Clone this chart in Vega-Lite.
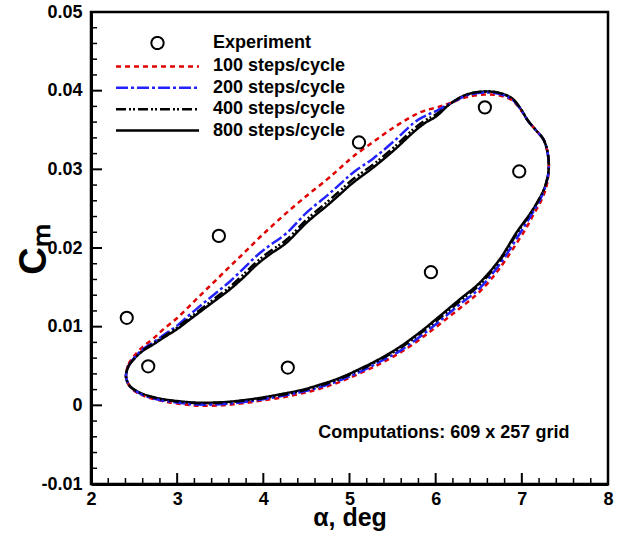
{
  "$schema": "https://vega.github.io/schema/vega-lite/v6.json",
  "width": 517,
  "height": 472,
  "autosize": {"type": "none"},
  "padding": {"left": 91, "top": 12, "right": 15, "bottom": 53},
  "background": "white",
  "config": {
    "font": "Liberation Sans",
    "view": {"stroke": "black", "strokeWidth": 2.5},
    "axis": {
      "grid": false, "domainColor": "black", "domainWidth": 3, "ticks": false,
      "labelFont": "Liberation Sans", "labelFontSize": 18, "labelFontWeight": "bold", "labelColor": "black",
      "titleFont": "Liberation Sans", "titleFontWeight": "bold", "titleColor": "black",
      "labelOverlap": false, "labelFlush": false, "labelBound": false
    }
  },
  "encoding": {
    "x": {
      "field": "a", "type": "quantitative",
      "scale": {"domain": [2, 8], "nice": false, "zero": false},
      "axis": {
        "values": [2,3,4,5,6,7,8],
        "labelExpr": "format(round(datum.value), 'd')",
        "labelPadding": 6,
        "title": "α, deg", "titleFontSize": 25, "titleY": 41, "titleBaseline": "alphabetic"
      }
    },
    "y": {
      "field": "c", "type": "quantitative",
      "scale": {"domain": [-0.01, 0.05], "nice": false, "zero": false},
      "axis": {
        "values": [-0.01,0,0.01,0.02,0.03,0.04,0.05],
        "labelExpr": "abs(datum.value) < 0.0001 ? '0' : (datum.value < 0 ? '-0.01' : format(datum.value, '.2f'))",
        "labelPadding": 9,
        "title": "Cₘ", "titleFontSize": 38, "titleX": -46, "titleY": 237, "titleBaseline": "alphabetic", "titleAlign": "center", "titleAngle": 270
      }
    }
  },
  "layer": [
    {
      "data": {"values": [{"a":2,"c":-0.01},{"a":3,"c":-0.01},{"a":4,"c":-0.01},{"a":5,"c":-0.01},{"a":6,"c":-0.01},{"a":7,"c":-0.01},{"a":8,"c":-0.01}]},
      "mark": {"type": "tick", "orient": "vertical", "size": 22, "thickness": 2, "color": "black", "opacity": 1, "clip": true}
    },
    {
      "data": {"values": [{"a":2.2,"c":-0.01},{"a":2.4,"c":-0.01},{"a":2.6,"c":-0.01},{"a":2.8,"c":-0.01},{"a":3.2,"c":-0.01},{"a":3.4,"c":-0.01},{"a":3.6,"c":-0.01},{"a":3.8,"c":-0.01},{"a":4.2,"c":-0.01},{"a":4.4,"c":-0.01},{"a":4.6,"c":-0.01},{"a":4.8,"c":-0.01},{"a":5.2,"c":-0.01},{"a":5.4,"c":-0.01},{"a":5.6,"c":-0.01},{"a":5.8,"c":-0.01},{"a":6.2,"c":-0.01},{"a":6.4,"c":-0.01},{"a":6.6,"c":-0.01},{"a":6.8,"c":-0.01},{"a":7.2,"c":-0.01},{"a":7.4,"c":-0.01},{"a":7.6,"c":-0.01},{"a":7.8,"c":-0.01}]},
      "mark": {"type": "tick", "orient": "vertical", "size": 12, "thickness": 1.5, "color": "black", "opacity": 1, "clip": true}
    },
    {
      "data": {"values": [{"a":2,"c":-0.01},{"a":2,"c":0},{"a":2,"c":0.01},{"a":2,"c":0.02},{"a":2,"c":0.03},{"a":2,"c":0.04},{"a":2,"c":0.05}]},
      "mark": {"type": "tick", "orient": "horizontal", "size": 22, "thickness": 2, "color": "black", "opacity": 1, "clip": true}
    },
    {
      "data": {"values": [{"a":2,"c":-0.008},{"a":2,"c":-0.006},{"a":2,"c":-0.004},{"a":2,"c":-0.002},{"a":2,"c":0.002},{"a":2,"c":0.004},{"a":2,"c":0.006},{"a":2,"c":0.008},{"a":2,"c":0.012},{"a":2,"c":0.014},{"a":2,"c":0.016},{"a":2,"c":0.018},{"a":2,"c":0.022},{"a":2,"c":0.024},{"a":2,"c":0.026},{"a":2,"c":0.028},{"a":2,"c":0.032},{"a":2,"c":0.034},{"a":2,"c":0.036},{"a":2,"c":0.038},{"a":2,"c":0.042},{"a":2,"c":0.044},{"a":2,"c":0.046},{"a":2,"c":0.048}]},
      "mark": {"type": "tick", "orient": "horizontal", "size": 12, "thickness": 1.5, "color": "black", "opacity": 1, "clip": true}
    },
    {
      "data": {"values": [
        {"s":"800 steps/cycle","i":1,"a":2.406,"c":0.00373},{"s":"800 steps/cycle","i":2,"a":2.436,"c":0.00500},{"s":"800 steps/cycle","i":3,"a":2.514,"c":0.00607},{"s":"800 steps/cycle","i":4,"a":2.610,"c":0.00700},{"s":"800 steps/cycle","i":5,"a":2.726,"c":0.00776},{"s":"800 steps/cycle","i":6,"a":2.842,"c":0.00861},{"s":"800 steps/cycle","i":7,"a":2.997,"c":0.00967},{"s":"800 steps/cycle","i":8,"a":3.151,"c":0.01094},{"s":"800 steps/cycle","i":9,"a":3.305,"c":0.01221},{"s":"800 steps/cycle","i":10,"a":3.461,"c":0.01349},
        {"s":"800 steps/cycle","i":11,"a":3.615,"c":0.01476},{"s":"800 steps/cycle","i":12,"a":3.769,"c":0.01625},{"s":"800 steps/cycle","i":13,"a":3.924,"c":0.01788},{"s":"800 steps/cycle","i":14,"a":4.078,"c":0.01921},{"s":"800 steps/cycle","i":15,"a":4.272,"c":0.02070},{"s":"800 steps/cycle","i":16,"a":4.504,"c":0.02324},{"s":"800 steps/cycle","i":17,"a":4.736,"c":0.02536},{"s":"800 steps/cycle","i":18,"a":4.890,"c":0.02684},{"s":"800 steps/cycle","i":19,"a":5.044,"c":0.02833},{"s":"800 steps/cycle","i":20,"a":5.276,"c":0.03024},
        {"s":"800 steps/cycle","i":21,"a":5.508,"c":0.03235},{"s":"800 steps/cycle","i":22,"a":5.739,"c":0.03469},{"s":"800 steps/cycle","i":23,"a":5.875,"c":0.03588},{"s":"800 steps/cycle","i":24,"a":6.011,"c":0.03677},{"s":"800 steps/cycle","i":25,"a":6.165,"c":0.03830},{"s":"800 steps/cycle","i":26,"a":6.358,"c":0.03950},{"s":"800 steps/cycle","i":27,"a":6.571,"c":0.03989},{"s":"800 steps/cycle","i":28,"a":6.744,"c":0.03969},{"s":"800 steps/cycle","i":29,"a":6.889,"c":0.03900},{"s":"800 steps/cycle","i":30,"a":6.988,"c":0.03766},
        {"s":"800 steps/cycle","i":31,"a":7.072,"c":0.03617},{"s":"800 steps/cycle","i":32,"a":7.162,"c":0.03499},{"s":"800 steps/cycle","i":33,"a":7.255,"c":0.03372},{"s":"800 steps/cycle","i":34,"a":7.304,"c":0.03181},{"s":"800 steps/cycle","i":35,"a":7.310,"c":0.02977},{"s":"800 steps/cycle","i":36,"a":7.266,"c":0.02770},{"s":"800 steps/cycle","i":37,"a":7.188,"c":0.02599},{"s":"800 steps/cycle","i":38,"a":7.092,"c":0.02430},{"s":"800 steps/cycle","i":39,"a":6.938,"c":0.02197},{"s":"800 steps/cycle","i":40,"a":6.744,"c":0.01858},
        {"s":"800 steps/cycle","i":41,"a":6.513,"c":0.01561},{"s":"800 steps/cycle","i":42,"a":6.281,"c":0.01349},{"s":"800 steps/cycle","i":43,"a":6.049,"c":0.01136},{"s":"800 steps/cycle","i":44,"a":5.817,"c":0.00929},{"s":"800 steps/cycle","i":45,"a":5.585,"c":0.00744},{"s":"800 steps/cycle","i":46,"a":5.353,"c":0.00592},{"s":"800 steps/cycle","i":47,"a":5.122,"c":0.00464},{"s":"800 steps/cycle","i":48,"a":4.890,"c":0.00350},{"s":"800 steps/cycle","i":49,"a":4.658,"c":0.00263},{"s":"800 steps/cycle","i":50,"a":4.426,"c":0.00191},
        {"s":"800 steps/cycle","i":51,"a":4.194,"c":0.00140},{"s":"800 steps/cycle","i":52,"a":3.962,"c":0.00095},{"s":"800 steps/cycle","i":53,"a":3.731,"c":0.00060},{"s":"800 steps/cycle","i":54,"a":3.499,"c":0.00038},{"s":"800 steps/cycle","i":55,"a":3.229,"c":0.00034},{"s":"800 steps/cycle","i":56,"a":2.997,"c":0.00055},{"s":"800 steps/cycle","i":57,"a":2.803,"c":0.00085},{"s":"800 steps/cycle","i":58,"a":2.610,"c":0.00140},{"s":"800 steps/cycle","i":59,"a":2.494,"c":0.00204},{"s":"800 steps/cycle","i":60,"a":2.436,"c":0.00267},

        {"s":"100 steps/cycle","i":1,"a":2.406,"c":0.00373},{"s":"100 steps/cycle","i":2,"a":2.436,"c":0.00525},{"s":"100 steps/cycle","i":3,"a":2.514,"c":0.00645},{"s":"100 steps/cycle","i":4,"a":2.610,"c":0.00751},{"s":"100 steps/cycle","i":5,"a":2.726,"c":0.00852},{"s":"100 steps/cycle","i":6,"a":2.842,"c":0.00969},{"s":"100 steps/cycle","i":7,"a":2.997,"c":0.01107},{"s":"100 steps/cycle","i":8,"a":3.151,"c":0.01272},{"s":"100 steps/cycle","i":9,"a":3.305,"c":0.01438},{"s":"100 steps/cycle","i":10,"a":3.461,"c":0.01603},
        {"s":"100 steps/cycle","i":11,"a":3.615,"c":0.01768},{"s":"100 steps/cycle","i":12,"a":3.769,"c":0.01930},{"s":"100 steps/cycle","i":13,"a":3.924,"c":0.02099},{"s":"100 steps/cycle","i":14,"a":4.078,"c":0.02258},{"s":"100 steps/cycle","i":15,"a":4.272,"c":0.02449},{"s":"100 steps/cycle","i":16,"a":4.504,"c":0.02665},{"s":"100 steps/cycle","i":17,"a":4.736,"c":0.02869},{"s":"100 steps/cycle","i":18,"a":4.890,"c":0.03015},{"s":"100 steps/cycle","i":19,"a":5.044,"c":0.03164},{"s":"100 steps/cycle","i":20,"a":5.276,"c":0.03349},
        {"s":"100 steps/cycle","i":21,"a":5.508,"c":0.03528},{"s":"100 steps/cycle","i":22,"a":5.739,"c":0.03681},{"s":"100 steps/cycle","i":23,"a":5.875,"c":0.03747},{"s":"100 steps/cycle","i":24,"a":6.011,"c":0.03785},{"s":"100 steps/cycle","i":25,"a":6.165,"c":0.03842},{"s":"100 steps/cycle","i":26,"a":6.358,"c":0.03918},{"s":"100 steps/cycle","i":27,"a":6.571,"c":0.03951},{"s":"100 steps/cycle","i":28,"a":6.744,"c":0.03937},{"s":"100 steps/cycle","i":29,"a":6.889,"c":0.03875},{"s":"100 steps/cycle","i":30,"a":6.988,"c":0.03753},
        {"s":"100 steps/cycle","i":31,"a":7.072,"c":0.03617},{"s":"100 steps/cycle","i":32,"a":7.162,"c":0.03499},{"s":"100 steps/cycle","i":33,"a":7.255,"c":0.03372},{"s":"100 steps/cycle","i":34,"a":7.304,"c":0.03181},{"s":"100 steps/cycle","i":35,"a":7.312,"c":0.02977},{"s":"100 steps/cycle","i":36,"a":7.283,"c":0.02770},{"s":"100 steps/cycle","i":37,"a":7.223,"c":0.02599},{"s":"100 steps/cycle","i":38,"a":7.138,"c":0.02430},{"s":"100 steps/cycle","i":39,"a":7.019,"c":0.02197},{"s":"100 steps/cycle","i":40,"a":6.744,"c":0.01744},
        {"s":"100 steps/cycle","i":41,"a":6.513,"c":0.01447},{"s":"100 steps/cycle","i":42,"a":6.281,"c":0.01235},{"s":"100 steps/cycle","i":43,"a":6.049,"c":0.01034},{"s":"100 steps/cycle","i":44,"a":5.817,"c":0.00840},{"s":"100 steps/cycle","i":45,"a":5.585,"c":0.00668},{"s":"100 steps/cycle","i":46,"a":5.353,"c":0.00528},{"s":"100 steps/cycle","i":47,"a":5.122,"c":0.00407},{"s":"100 steps/cycle","i":48,"a":4.890,"c":0.00299},{"s":"100 steps/cycle","i":49,"a":4.658,"c":0.00212},{"s":"100 steps/cycle","i":50,"a":4.426,"c":0.00147},
        {"s":"100 steps/cycle","i":51,"a":4.194,"c":0.00096},{"s":"100 steps/cycle","i":52,"a":3.962,"c":0.00057},{"s":"100 steps/cycle","i":53,"a":3.731,"c":0.00022},{"s":"100 steps/cycle","i":54,"a":3.499,"c":0.00000},{"s":"100 steps/cycle","i":55,"a":3.229,"c":-0.00004},{"s":"100 steps/cycle","i":56,"a":2.997,"c":0.00023},{"s":"100 steps/cycle","i":57,"a":2.803,"c":0.00060},{"s":"100 steps/cycle","i":58,"a":2.610,"c":0.00121},{"s":"100 steps/cycle","i":59,"a":2.494,"c":0.00191},{"s":"100 steps/cycle","i":60,"a":2.436,"c":0.00267},

        {"s":"200 steps/cycle","i":1,"a":2.406,"c":0.00373},{"s":"200 steps/cycle","i":2,"a":2.436,"c":0.00500},{"s":"200 steps/cycle","i":3,"a":2.514,"c":0.00620},{"s":"200 steps/cycle","i":4,"a":2.610,"c":0.00719},{"s":"200 steps/cycle","i":5,"a":2.726,"c":0.00802},{"s":"200 steps/cycle","i":6,"a":2.842,"c":0.00893},{"s":"200 steps/cycle","i":7,"a":2.997,"c":0.01011},{"s":"200 steps/cycle","i":8,"a":3.151,"c":0.01158},{"s":"200 steps/cycle","i":9,"a":3.305,"c":0.01298},{"s":"200 steps/cycle","i":10,"a":3.461,"c":0.01438},
        {"s":"200 steps/cycle","i":11,"a":3.615,"c":0.01578},{"s":"200 steps/cycle","i":12,"a":3.769,"c":0.01739},{"s":"200 steps/cycle","i":13,"a":3.924,"c":0.01902},{"s":"200 steps/cycle","i":14,"a":4.078,"c":0.02036},{"s":"200 steps/cycle","i":15,"a":4.272,"c":0.02191},{"s":"200 steps/cycle","i":16,"a":4.504,"c":0.02452},{"s":"200 steps/cycle","i":17,"a":4.736,"c":0.02663},{"s":"200 steps/cycle","i":18,"a":4.890,"c":0.02812},{"s":"200 steps/cycle","i":19,"a":5.044,"c":0.02961},{"s":"200 steps/cycle","i":20,"a":5.276,"c":0.03139},
        {"s":"200 steps/cycle","i":21,"a":5.508,"c":0.03350},{"s":"200 steps/cycle","i":22,"a":5.739,"c":0.03584},{"s":"200 steps/cycle","i":23,"a":5.875,"c":0.03677},{"s":"200 steps/cycle","i":24,"a":6.011,"c":0.03744},{"s":"200 steps/cycle","i":25,"a":6.165,"c":0.03836},{"s":"200 steps/cycle","i":26,"a":6.358,"c":0.03937},{"s":"200 steps/cycle","i":27,"a":6.571,"c":0.03976},{"s":"200 steps/cycle","i":28,"a":6.744,"c":0.03956},{"s":"200 steps/cycle","i":29,"a":6.889,"c":0.03887},{"s":"200 steps/cycle","i":30,"a":6.988,"c":0.03760},
        {"s":"200 steps/cycle","i":31,"a":7.072,"c":0.03617},{"s":"200 steps/cycle","i":32,"a":7.162,"c":0.03499},{"s":"200 steps/cycle","i":33,"a":7.255,"c":0.03372},{"s":"200 steps/cycle","i":34,"a":7.304,"c":0.03181},{"s":"200 steps/cycle","i":35,"a":7.310,"c":0.02977},{"s":"200 steps/cycle","i":36,"a":7.270,"c":0.02770},{"s":"200 steps/cycle","i":37,"a":7.205,"c":0.02599},{"s":"200 steps/cycle","i":38,"a":7.115,"c":0.02430},{"s":"200 steps/cycle","i":39,"a":6.984,"c":0.02197},{"s":"200 steps/cycle","i":40,"a":6.744,"c":0.01794},
        {"s":"200 steps/cycle","i":41,"a":6.513,"c":0.01491},{"s":"200 steps/cycle","i":42,"a":6.281,"c":0.01285},{"s":"200 steps/cycle","i":43,"a":6.049,"c":0.01072},{"s":"200 steps/cycle","i":44,"a":5.817,"c":0.00872},{"s":"200 steps/cycle","i":45,"a":5.585,"c":0.00693},{"s":"200 steps/cycle","i":46,"a":5.353,"c":0.00554},{"s":"200 steps/cycle","i":47,"a":5.122,"c":0.00426},{"s":"200 steps/cycle","i":48,"a":4.890,"c":0.00318},{"s":"200 steps/cycle","i":49,"a":4.658,"c":0.00231},{"s":"200 steps/cycle","i":50,"a":4.426,"c":0.00166},
        {"s":"200 steps/cycle","i":51,"a":4.194,"c":0.00115},{"s":"200 steps/cycle","i":52,"a":3.962,"c":0.00070},{"s":"200 steps/cycle","i":53,"a":3.731,"c":0.00035},{"s":"200 steps/cycle","i":54,"a":3.499,"c":0.00013},{"s":"200 steps/cycle","i":55,"a":3.229,"c":0.00009},{"s":"200 steps/cycle","i":56,"a":2.997,"c":0.00036},{"s":"200 steps/cycle","i":57,"a":2.803,"c":0.00066},{"s":"200 steps/cycle","i":58,"a":2.610,"c":0.00127},{"s":"200 steps/cycle","i":59,"a":2.494,"c":0.00198},{"s":"200 steps/cycle","i":60,"a":2.436,"c":0.00267},

        {"s":"400 steps/cycle","i":1,"a":2.406,"c":0.00373},{"s":"400 steps/cycle","i":2,"a":2.436,"c":0.00500},{"s":"400 steps/cycle","i":3,"a":2.514,"c":0.00607},{"s":"400 steps/cycle","i":4,"a":2.610,"c":0.00706},{"s":"400 steps/cycle","i":5,"a":2.726,"c":0.00789},{"s":"400 steps/cycle","i":6,"a":2.842,"c":0.00874},{"s":"400 steps/cycle","i":7,"a":2.997,"c":0.00986},{"s":"400 steps/cycle","i":8,"a":3.151,"c":0.01119},{"s":"400 steps/cycle","i":9,"a":3.305,"c":0.01246},{"s":"400 steps/cycle","i":10,"a":3.461,"c":0.01381},
        {"s":"400 steps/cycle","i":11,"a":3.615,"c":0.01508},{"s":"400 steps/cycle","i":12,"a":3.769,"c":0.01663},{"s":"400 steps/cycle","i":13,"a":3.924,"c":0.01826},{"s":"400 steps/cycle","i":14,"a":4.078,"c":0.01959},{"s":"400 steps/cycle","i":15,"a":4.272,"c":0.02108},{"s":"400 steps/cycle","i":16,"a":4.504,"c":0.02362},{"s":"400 steps/cycle","i":17,"a":4.736,"c":0.02580},{"s":"400 steps/cycle","i":18,"a":4.890,"c":0.02728},{"s":"400 steps/cycle","i":19,"a":5.044,"c":0.02877},{"s":"400 steps/cycle","i":20,"a":5.276,"c":0.03062},
        {"s":"400 steps/cycle","i":21,"a":5.508,"c":0.03273},{"s":"400 steps/cycle","i":22,"a":5.739,"c":0.03507},{"s":"400 steps/cycle","i":23,"a":5.875,"c":0.03620},{"s":"400 steps/cycle","i":24,"a":6.011,"c":0.03702},{"s":"400 steps/cycle","i":25,"a":6.165,"c":0.03830},{"s":"400 steps/cycle","i":26,"a":6.358,"c":0.03950},{"s":"400 steps/cycle","i":27,"a":6.571,"c":0.03989},{"s":"400 steps/cycle","i":28,"a":6.744,"c":0.03969},{"s":"400 steps/cycle","i":29,"a":6.889,"c":0.03900},{"s":"400 steps/cycle","i":30,"a":6.988,"c":0.03766},
        {"s":"400 steps/cycle","i":31,"a":7.072,"c":0.03617},{"s":"400 steps/cycle","i":32,"a":7.162,"c":0.03499},{"s":"400 steps/cycle","i":33,"a":7.255,"c":0.03372},{"s":"400 steps/cycle","i":34,"a":7.304,"c":0.03181},{"s":"400 steps/cycle","i":35,"a":7.310,"c":0.02977},{"s":"400 steps/cycle","i":36,"a":7.266,"c":0.02770},{"s":"400 steps/cycle","i":37,"a":7.190,"c":0.02599},{"s":"400 steps/cycle","i":38,"a":7.096,"c":0.02430},{"s":"400 steps/cycle","i":39,"a":6.950,"c":0.02197},{"s":"400 steps/cycle","i":40,"a":6.744,"c":0.01839},
        {"s":"400 steps/cycle","i":41,"a":6.513,"c":0.01536},{"s":"400 steps/cycle","i":42,"a":6.281,"c":0.01324},{"s":"400 steps/cycle","i":43,"a":6.049,"c":0.01111},{"s":"400 steps/cycle","i":44,"a":5.817,"c":0.00910},{"s":"400 steps/cycle","i":45,"a":5.585,"c":0.00725},{"s":"400 steps/cycle","i":46,"a":5.353,"c":0.00579},{"s":"400 steps/cycle","i":47,"a":5.122,"c":0.00451},{"s":"400 steps/cycle","i":48,"a":4.890,"c":0.00337},{"s":"400 steps/cycle","i":49,"a":4.658,"c":0.00250},{"s":"400 steps/cycle","i":50,"a":4.426,"c":0.00178},
        {"s":"400 steps/cycle","i":51,"a":4.194,"c":0.00127},{"s":"400 steps/cycle","i":52,"a":3.962,"c":0.00082},{"s":"400 steps/cycle","i":53,"a":3.731,"c":0.00054},{"s":"400 steps/cycle","i":54,"a":3.499,"c":0.00032},{"s":"400 steps/cycle","i":55,"a":3.229,"c":0.00028},{"s":"400 steps/cycle","i":56,"a":2.997,"c":0.00049},{"s":"400 steps/cycle","i":57,"a":2.803,"c":0.00079},{"s":"400 steps/cycle","i":58,"a":2.610,"c":0.00140},{"s":"400 steps/cycle","i":59,"a":2.494,"c":0.00204},{"s":"400 steps/cycle","i":60,"a":2.436,"c":0.00267}
      ]},
      "mark": {"type": "line", "interpolate": "cardinal-closed", "strokeWidth": 2.5, "clip": false},
      "encoding": {
        "color": {
          "field": "s", "type": "nominal",
          "scale": {"domain": ["Experiment","100 steps/cycle","200 steps/cycle","400 steps/cycle","800 steps/cycle"], "range": ["black","#e00000","#2222ff","black","black"]},
          "legend": {
            "orient": "none", "legendX": 57.5, "legendY": 22, "title": null, "padding": 0,
            "symbolType": "stroke", "symbolSize": 6889, "symbolStrokeWidth": 2.5,
            "labelFontSize": 18, "labelFontWeight": "bold", "labelColor": "black", "labelOffset": 46.5, "rowPadding": 3.4,
            "encode": {"symbols": {"update": {
              "shape": {"signal": "datum.value === 'Experiment' ? 'circle' : 'stroke'"},
              "size": {"signal": "datum.value === 'Experiment' ? 150 : 6889"},
              "strokeWidth": {"signal": "datum.value === 'Experiment' ? 2 : 2.5"},
              "fill": {"value": "transparent"}
            }}}
          }
        },
        "strokeDash": {
          "field": "s", "type": "nominal",
          "scale": {"domain": ["Experiment","100 steps/cycle","200 steps/cycle","400 steps/cycle","800 steps/cycle"], "range": [[1,0],[5,4],[12,3,3,3],[10,3,2,2,2,3],[1,0]]},
          "legend": {
            "orient": "none", "legendX": 57.5, "legendY": 22, "title": null, "padding": 0,
            "symbolType": "stroke", "symbolSize": 6889, "symbolStrokeWidth": 2.5,
            "labelFontSize": 18, "labelFontWeight": "bold", "labelColor": "black", "labelOffset": 46.5, "rowPadding": 3.4,
            "encode": {"symbols": {"update": {
              "shape": {"signal": "datum.value === 'Experiment' ? 'circle' : 'stroke'"},
              "size": {"signal": "datum.value === 'Experiment' ? 150 : 6889"},
              "strokeWidth": {"signal": "datum.value === 'Experiment' ? 2 : 2.5"},
              "fill": {"value": "transparent"}
            }}}
          }
        },
        "order": {"field": "i", "type": "quantitative"}
      }
    },
    {
      "data": {"values": [
        {"s":"Experiment","a":2.415,"c":0.01113},
        {"s":"Experiment","a":2.664,"c":0.00496},
        {"s":"Experiment","a":3.484,"c":0.02154},
        {"s":"Experiment","a":4.284,"c":0.00480},
        {"s":"Experiment","a":5.110,"c":0.03342},
        {"s":"Experiment","a":5.945,"c":0.01692},
        {"s":"Experiment","a":6.571,"c":0.03788},
        {"s":"Experiment","a":6.970,"c":0.02973}
      ]},
      "mark": {"type": "point", "shape": "circle", "filled": false, "size": 150, "strokeWidth": 2, "opacity": 1},
      "encoding": {
        "color": {
          "field": "s", "type": "nominal",
          "scale": {"domain": ["Experiment","100 steps/cycle","200 steps/cycle","400 steps/cycle","800 steps/cycle"], "range": ["black","#e00000","#2222ff","black","black"]},
          "legend": null
        }
      }
    },
    {
      "data": {"values": [{"a": 6.095, "c": -0.00411, "t": "Computations: 609 x 257 grid"}]},
      "mark": {"type": "text", "fontSize": 18, "fontWeight": "bold", "align": "center", "baseline": "alphabetic", "color": "black", "font": "Liberation Sans"},
      "encoding": {"text": {"field": "t"}}
    }
  ]
}
